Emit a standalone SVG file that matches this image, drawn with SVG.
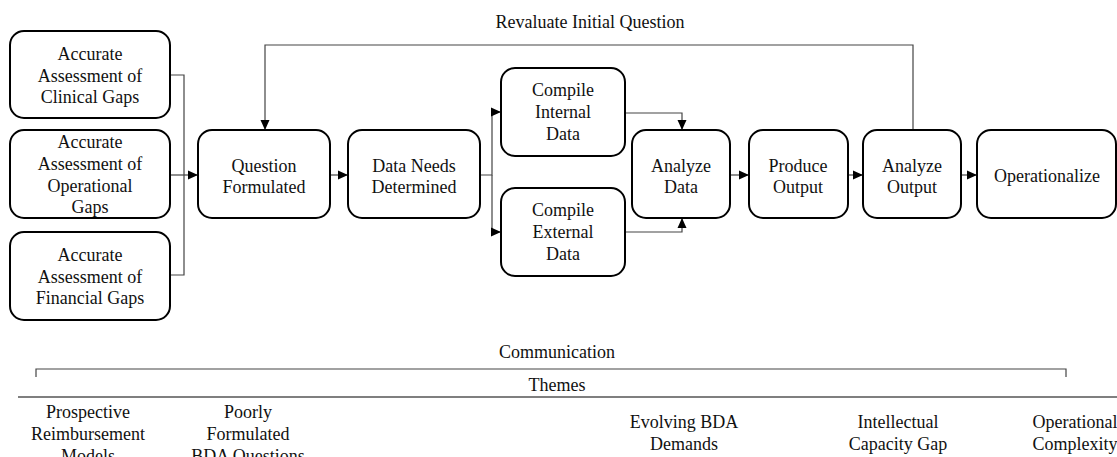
<svg xmlns="http://www.w3.org/2000/svg" width="1117" height="457" viewBox="0 0 1117 457">
<style>
.box{fill:#fff;stroke:#000;stroke-width:2}
.t{font-family:'Liberation Serif',Tinos,'Times New Roman','DejaVu Serif',serif;font-size:18px;fill:#111;text-anchor:middle}
.c{fill:none;stroke:#444;stroke-width:1.2}
.g{fill:none;stroke:#555;stroke-width:1.5}
</style>
<defs>
<marker id="ah" viewBox="0 0 10 10" refX="10" refY="5" markerWidth="10" markerHeight="10" markerUnits="userSpaceOnUse" orient="auto">
<path d="M0,0.5 L10,5 L0,9.5 Z" fill="#000"/>
</marker>
</defs>

<g id="connectors">
<path class="c" d="M170,75 H184 V275 H170"/>
<path class="c" d="M170,175 H198" marker-end="url(#ah)"/>
<path class="c" d="M330,175 H348" marker-end="url(#ah)"/>
<path class="c" d="M480,175 H492 V112 H501" marker-end="url(#ah)"/>
<path class="c" d="M492,175 V232 H501" marker-end="url(#ah)"/>
<path class="c" d="M625,113 H682 V130" marker-end="url(#ah)"/>
<path class="c" d="M625,232 H682 V218" marker-end="url(#ah)"/>
<path class="c" d="M730,175 H749" marker-end="url(#ah)"/>
<path class="c" d="M848,175 H863" marker-end="url(#ah)"/>
<path class="c" d="M961,175 H977" marker-end="url(#ah)"/>
<path class="c" d="M913,130 V45 H265 V130" marker-end="url(#ah)"/>
<text class="t" x="590" y="28" font-family="Liberation Serif">Revaluate Initial Question</text>
</g>

<g id="n-clinical">
<rect class="box" x="10" y="31" width="160" height="87" rx="14"/>
<text class="t" x="90" y="60">Accurate</text>
<text class="t" x="90" y="82">Assessment of</text>
<text class="t" x="90" y="103">Clinical Gaps</text>
</g>
<g id="n-operational">
<rect class="box" x="10" y="130" width="160" height="88" rx="14"/>
<text class="t" x="90" y="148">Accurate</text>
<text class="t" x="90" y="170">Assessment of</text>
<text class="t" x="90" y="192">Operational</text>
<text class="t" x="90" y="213">Gaps</text>
</g>
<g id="n-financial">
<rect class="box" x="10" y="232" width="160" height="88" rx="14"/>
<text class="t" x="90" y="261">Accurate</text>
<text class="t" x="90" y="283">Assessment of</text>
<text class="t" x="90" y="304">Financial Gaps</text>
</g>
<g id="n-question">
<rect class="box" x="198" y="130" width="132" height="88" rx="14"/>
<text class="t" x="264" y="172">Question</text>
<text class="t" x="264" y="193">Formulated</text>
</g>
<g id="n-dataneeds">
<rect class="box" x="348" y="130" width="132" height="88" rx="14"/>
<text class="t" x="414" y="172">Data Needs</text>
<text class="t" x="414" y="193">Determined</text>
</g>
<g id="n-internal">
<rect class="box" x="501" y="68" width="124" height="88" rx="14"/>
<text class="t" x="563" y="96">Compile</text>
<text class="t" x="563" y="118">Internal</text>
<text class="t" x="563" y="140">Data</text>
</g>
<g id="n-external">
<rect class="box" x="501" y="188" width="124" height="88" rx="14"/>
<text class="t" x="563" y="216">Compile</text>
<text class="t" x="563" y="238">External</text>
<text class="t" x="563" y="260">Data</text>
</g>
<g id="n-analyzedata">
<rect class="box" x="632" y="130" width="98" height="88" rx="14"/>
<text class="t" x="681" y="172">Analyze</text>
<text class="t" x="681" y="193">Data</text>
</g>
<g id="n-produce">
<rect class="box" x="749" y="130" width="99" height="88" rx="14"/>
<text class="t" x="798" y="172">Produce</text>
<text class="t" x="798" y="193">Output</text>
</g>
<g id="n-analyzeoutput">
<rect class="box" x="863" y="130" width="98" height="88" rx="14"/>
<text class="t" x="912" y="172">Analyze</text>
<text class="t" x="912" y="193">Output</text>
</g>
<g id="n-operationalize">
<rect class="box" x="977" y="130" width="139" height="88" rx="14"/>
<text class="t" x="1047" y="182">Operationalize</text>
</g>

<g id="themes">
<text class="t" x="557" y="358">Communication</text>
<path class="c" d="M36,377 V369 H1066 V377"/>
<text class="t" x="557" y="391">Themes</text>
<path class="g" d="M18,397 H1117"/>
<text class="t" x="88" y="418">Prospective</text>
<text class="t" x="88" y="440">Reimbursement</text>
<text class="t" x="88" y="462">Models</text>
<text class="t" x="248" y="418">Poorly</text>
<text class="t" x="248" y="440">Formulated</text>
<text class="t" x="248" y="462">BDA Questions</text>
<text class="t" x="684" y="428">Evolving BDA</text>
<text class="t" x="684" y="450">Demands</text>
<text class="t" x="898" y="428">Intellectual</text>
<text class="t" x="898" y="450">Capacity Gap</text>
<text class="t" x="1075" y="428">Operational</text>
<text class="t" x="1075" y="450">Complexity</text>
</g>
</svg>
